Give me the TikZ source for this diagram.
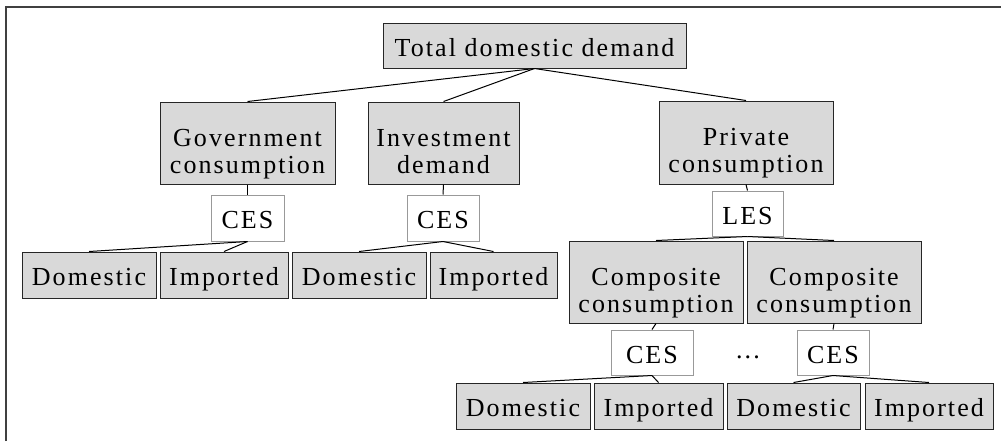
\documentclass[tikz,border=0pt]{standalone}
\usepackage{fontspec}
\setmainfont[LetterSpace=8]{Liberation Serif}
\usepackage{tikz}
\usetikzlibrary{shapes,backgrounds}

\begin{document}
\begin{tikzpicture}[x=0.5pt,y=-0.5pt,
		every node/.style={font=\fontsize{13}{13.5}\selectfont},
		good/.style={draw=black!85,fill=black!15,line width=0.5pt,inner sep=0pt},
		rule/.style={draw=black!40,fill=white,line width=0.5pt,inner sep=0pt},
		oneline/.style={text height=12pt,text depth=1.5pt},
		twoline/.style={align=center,text height=31.5pt,text depth=1.5pt},
		boxsize/.style 2 args={minimum width=#1*0.5pt,minimum height=#2*0.5pt},
		link/.style={line width=0.5pt,black}]
			\useasboundingbox (0,0) rectangle (1001,441);
			\draw[black!75,line width=1pt] (5.5,441) -- (5.5,6.5) -- (1001,6.5); % frame
			% top level
			\node[good,oneline,boxsize={303}{45}] (total) at (534.5,45.5) {Total domestic demand};
			\node[good,twoline,boxsize={175}{82}] (gov) at (247.5,143) {Government\\consumption};
			\node[good,twoline,boxsize={151}{82}] (inv) at (443.5,143) {Investment\\demand};
			\node[good,twoline,boxsize={174}{83}] (priv) at (746,142.5) {Private\\consumption};
			% nesting rules
			\node[rule,oneline,boxsize={73}{46}] (cesgov) at (247.5,218) {CES};
			\node[rule,oneline,boxsize={72}{46}] (cesinv) at (443,218) {CES};
			\node[rule,oneline,boxsize={71}{45}] (les) at (747.5,213.5) {LES};
			% government and investment goods
			\node[good,oneline,boxsize={134}{46}] (domgov) at (89,275) {Domestic};
			\node[good,oneline,boxsize={128}{46}] (impgov) at (224,275) {Imported};
			\node[good,oneline,boxsize={134}{46}] (dominv) at (359,275) {Domestic};
			\node[good,oneline,boxsize={127}{46}] (impinv) at (493.5,275) {Imported};
			% private goods
			\node[good,twoline,boxsize={174}{82}] (compa) at (656,282) {Composite\\consumption};
			\node[good,twoline,boxsize={174}{82}] (compb) at (834,282) {Composite\\consumption};
			\node[rule,oneline,boxsize={82}{45}] (cesa) at (652,352.5) {CES};
			\node[rule,oneline,boxsize={72}{45}] (cesb) at (833,352.5) {CES};
			\node (dots) at (748,357) {...};
			\node[good,oneline,boxsize={134}{46}] (doma) at (523,406) {Domestic};
			\node[good,oneline,boxsize={129}{46}] (impa) at (658.5,406) {Imported};
			\node[good,oneline,boxsize={133}{46}] (domb) at (793.5,406) {Domestic};
			\node[good,oneline,boxsize={128}{46}] (impb) at (929,406) {Imported};
			% links
			\begin{scope}[link]
				\draw (total.south) -- (gov.north);
				\draw (total.south) -- (inv.north);
				\draw (total.south) -- (priv.north);
				\draw (gov.south) -- (cesgov.north);
				\draw (inv.south) -- (cesinv.north);
				\draw (priv.south) -- (les.north);
				\draw (cesgov.south) -- (domgov.north);
				\draw (cesgov.south) -- (impgov.north);
				\draw (cesinv.south) -- (dominv.north);
				\draw (cesinv.south) -- (impinv.north);
				\draw (les.south) -- (compa.north);
				\draw (les.south) -- (compb.north);
				\draw (compa.south) -- (cesa.north);
				\draw (compb.south) -- (cesb.north);
				\draw (cesa.south) -- (doma.north);
				\draw (cesa.south) -- (impa.north);
				\draw (cesb.south) -- (domb.north);
				\draw (cesb.south) -- (impb.north);
			\end{scope}
		\end{tikzpicture}
\end{document}
